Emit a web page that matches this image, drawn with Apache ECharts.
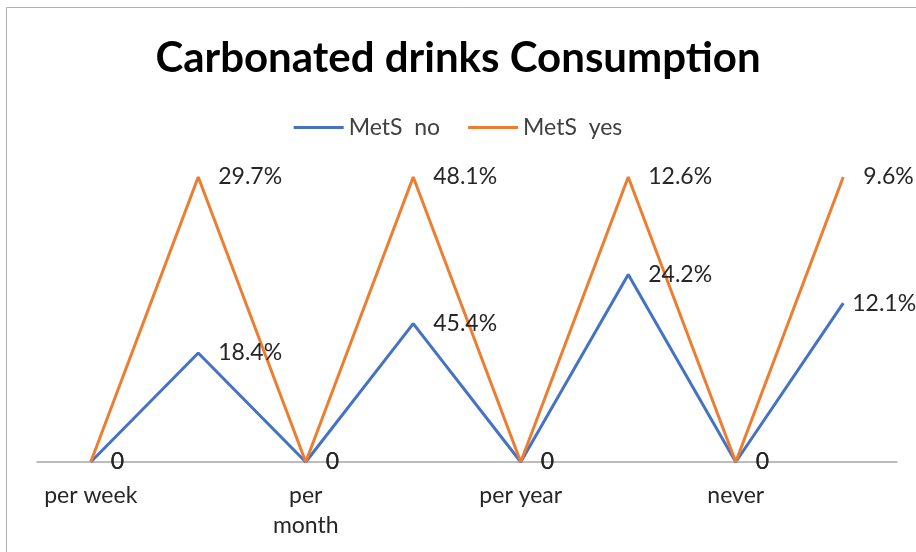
<!DOCTYPE html>
<html>
<head>
<meta charset="utf-8">
<script src="https://cdn.jsdelivr.net/npm/echarts@6/dist/echarts.min.js"></script>
<style>
  html, body { margin: 0; padding: 0; background: #fff; }
  #main { width: 916px; height: 552px; }
</style>
</head>
<body>
<div id="main"></div>
<script>
// categories alternate: frequency point, then the value point
const categories = ['per week', '', 'per\nmonth', '', 'per year', '', 'never', ''];
const metsNo = [0, 18.4, 0, 45.4, 0, 24.2, 0, 12.1];
const metsYes = [0, 29.7, 0, 48.1, 0, 12.6, 0, 9.6];

// 100% stacked: each series is drawn as its share of the category total
const share = (arr) => arr.map((v, i) => {
    const total = metsNo[i] + metsYes[i];
    return total ? v / total : 0;
});

const labelText = (raw) => (p) => raw[p.dataIndex] === 0 ? '0' : raw[p.dataIndex].toFixed(1) + '%';

const font = 'Lato';
const labelStyle = {
    show: true,
    position: 'right',
    distance: 20,
    color: '#262626',
    fontFamily: font,
    fontSize: 23
};

const chart = echarts.init(document.getElementById('main'));

// last blue label sits closer to its point (pushed in from the right edge)
const noData = share(metsNo).map((v, i) => i === metsNo.length - 1
    ? { value: v, label: { distance: 9 } }
    : v);

chart.setOption({
    animation: false,
    title: {
        text: 'Carbonated drinks Consumption',
        left: 'center',
        top: 32,
        textStyle: { fontFamily: font, fontWeight: 'bold', fontSize: 42, color: '#000' }
    },
    legend: {
        top: 111,
        left: 'center',
        itemWidth: 50,
        itemHeight: 3,
        itemGap: 28,
        icon: 'rect',
        textStyle: { fontFamily: font, fontSize: 23, color: '#404040' },
        data: ['MetS  no', 'MetS  yes']
    },
    graphic: [{
        type: 'rect',
        shape: { x: 6.5, y: 7.5, width: 1000, height: 1000 },
        style: { fill: 'none', stroke: '#b0b0b0', lineWidth: 1 },
        silent: true
    }],
    grid: { left: 37, right: 19, top: 177, bottom: 90 },
    xAxis: {
        type: 'category',
        data: categories,
        boundaryGap: true,
        axisLine: { lineStyle: { color: '#a6a6a6', width: 1.5 } },
        axisTick: { show: false },
        axisLabel: {
            interval: 0,
            margin: 19,
            color: '#262626',
            fontFamily: font,
            fontSize: 23,
            lineHeight: 30
        }
    },
    yAxis: {
        type: 'value',
        min: 0,
        max: 1,
        show: false,
        splitLine: { show: false }
    },
    series: [{
        name: 'MetS  no',
        type: 'line',
        stack: 'total',
        data: noData,
        symbol: 'circle',
        symbolSize: 0,
        showSymbol: true,
        lineStyle: { color: '#4472C4', width: 3 },
        itemStyle: { color: '#4472C4' },
        label: Object.assign({}, labelStyle, { formatter: labelText(metsNo) })
    }, {
        name: 'MetS  yes',
        type: 'line',
        stack: 'total',
        data: share(metsYes),
        symbol: 'circle',
        symbolSize: 0,
        showSymbol: true,
        lineStyle: { color: '#ED7D31', width: 3 },
        itemStyle: { color: '#ED7D31' },
        label: Object.assign({}, labelStyle, { formatter: labelText(metsYes) })
    }]
});
</script>
</body>
</html>
